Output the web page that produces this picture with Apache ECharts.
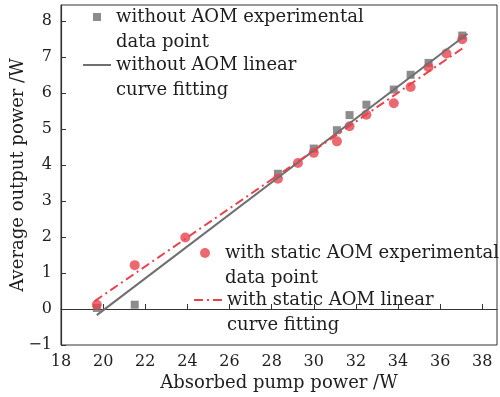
<!DOCTYPE html>
<html>
<head>
<meta charset="utf-8">
<script src="https://cdn.jsdelivr.net/npm/echarts@6/dist/echarts.min.js"></script>
<style>
  html, body { margin: 0; padding: 0; background: #fff; }
  #chart { width: 500px; height: 397px; }
</style>
</head>
<body>
<div id="chart"></div>
<script>
// without AOM: measured points
const pumpNoAom = [19.7, 21.5, 28.3, 30.0, 31.1, 31.7, 32.5, 33.8, 34.6, 35.45, 37.05]
const outNoAom = [0.03, 0.12, 3.76, 4.46, 4.97, 5.39, 5.68, 6.10, 6.51, 6.84, 7.60]
// with static AOM: measured points
const pumpAom = [19.7, 21.5, 23.9, 28.3, 29.25, 30.0, 31.1, 31.7, 32.5, 33.8, 34.6, 35.45, 36.3, 37.05]
const outAom = [0.12, 1.22, 1.99, 3.62, 4.06, 4.34, 4.66, 5.08, 5.40, 5.72, 6.17, 6.72, 7.10, 7.50]
// linear fits (end points)
const fitNoAomX = [19.7, 37.3]
const fitNoAomY = [-0.17, 7.65]
const fitAomX = [19.6, 37.1]
const fitAomY = [0.22, 7.26]

const names = [
  'without AOM experimental\ndata point',
  'without AOM linear\ncurve fitting',
  'with static AOM experimental\ndata point',
  'with static AOM linear\ncurve fitting'
]

const FONT = 'DejaVu Serif'
const GRAY = '#6f6f6f'
const RED = '#e8434d'
const TEXT = '#1e1e1e'
const LH = 25

const zip = (xs, ys) => xs.map((x, i) => [x, ys[i]])

// one legend per entry, so each icon/text can be placed like the original
function legendAt(name, left, cy, extra) {
  return Object.assign({
    data: [name],
    left: left,
    top: cy - LH * 1.5,
    padding: 0,
    selectedMode: false,
    formatter: n => ' \n' + n,
    textStyle: { fontFamily: FONT, fontSize: 18, color: TEXT, lineHeight: LH }
  }, extra)
}

const chart = echarts.init(document.getElementById('chart'))
chart.setOption({
  animation: false,
  grid: {
    left: 61, right: 3, top: 5, bottom: 52,
    outerBoundsMode: 'none',
    containLabel: false,
    show: true, borderColor: '#333', borderWidth: 1
  },
  legend: [
    legendAt(names[0], 93, 17, {
      icon: 'rect', itemWidth: 8, itemHeight: 8,
      textStyle: { fontFamily: FONT, fontSize: 18, color: TEXT, lineHeight: LH, padding: [0, 0, 0, 10] }
    }),
    legendAt(names[1], 82, 65, {
      itemWidth: 28, itemHeight: 14, itemStyle: { opacity: 0 }
    }),
    legendAt(names[2], 200, 253, {
      icon: 'circle', itemWidth: 10, itemHeight: 10,
      textStyle: { fontFamily: FONT, fontSize: 18, color: TEXT, lineHeight: LH, padding: [0, 0, 0, 10] }
    }),
    legendAt(names[3], 193, 300, {
      itemWidth: 28, itemHeight: 14, itemStyle: { opacity: 0 }
    })
  ],
  xAxis: {
    type: 'value',
    min: 18,
    max: 38.7,
    interval: 2,
    name: 'Absorbed pump power /W',
    nameLocation: 'middle',
    nameGap: 29,
    nameMoveOverlap: false,
    nameTextStyle: { fontFamily: FONT, fontSize: 18, color: TEXT },
    axisLine: { lineStyle: { color: '#333', width: 1.2 } },
    axisTick: { inside: true, length: 5, lineStyle: { color: '#333' } },
    axisLabel: {
      fontFamily: FONT, fontSize: 16, color: TEXT, margin: 9,
      showMaxLabel: false,
      formatter: v => (v % 2 === 0 ? String(v) : '')
    },
    splitLine: { show: false }
  },
  yAxis: {
    type: 'value',
    min: -1,
    max: 8.45,
    interval: 1,
    name: 'Average output power /W',
    nameLocation: 'middle',
    nameGap: 34,
    nameMoveOverlap: false,
    nameTextStyle: { fontFamily: FONT, fontSize: 18, color: TEXT },
    axisLine: { show: true, lineStyle: { color: '#333', width: 1.2 } },
    axisTick: { show: true, inside: true, length: 5, lineStyle: { color: '#333' } },
    axisLabel: {
      fontFamily: FONT, fontSize: 16, color: TEXT, margin: 9,
      showMaxLabel: false,
      formatter: v => (Number.isInteger(v) ? (v < 0 ? '\u2212' + (-v) : String(v)) : '')
    },
    splitLine: { show: false }
  },
  series: [
    {
      name: names[0],
      type: 'scatter',
      symbol: 'rect',
      symbolSize: 8,
      itemStyle: { color: GRAY },
      data: zip(pumpNoAom, outNoAom)
    },
    {
      name: names[1],
      type: 'line',
      symbol: 'none',
      lineStyle: { color: GRAY, width: 2 },
      itemStyle: { color: GRAY },
      data: zip(fitNoAomX, fitNoAomY)
    },
    {
      name: names[2],
      type: 'scatter',
      symbol: 'circle',
      symbolSize: 10,
      itemStyle: { color: RED },
      data: zip(pumpAom, outAom)
    },
    {
      name: names[3],
      type: 'line',
      symbol: 'none',
      lineStyle: { color: RED, width: 2, type: [9, 4, 2, 4] },
      itemStyle: { color: RED },
      data: zip(fitAomX, fitAomY)
    }
  ]
})
</script>
</body>
</html>
